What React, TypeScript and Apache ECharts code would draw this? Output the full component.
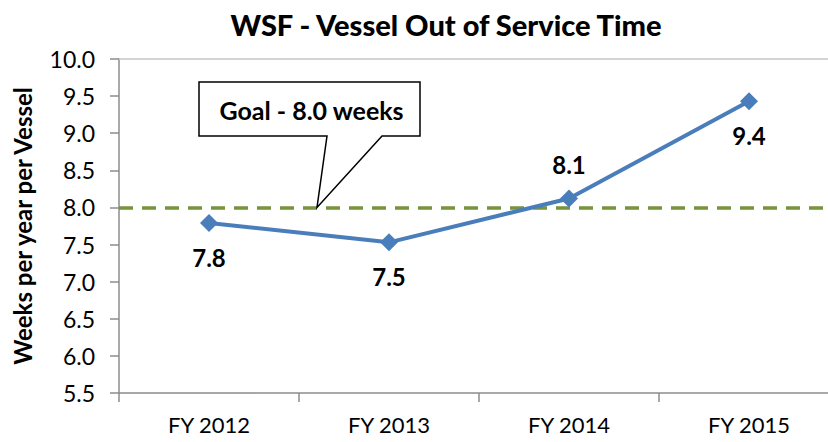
import React, { useEffect, useRef } from "react";
import * as echarts from "echarts";

const TITLE = "WSF - Vessel Out of Service Time";
const Y_NAME = "Weeks per year per Vessel";
const CATEGORIES = ["FY 2012", "FY 2013", "FY 2014", "FY 2015"];
const VALUES = [7.79, 7.53, 8.12, 9.43];
const LABEL_POS = ["bottom", "bottom", "top", "bottom"];
const GOAL = 8.0;
const GOAL_TEXT = "Goal - 8.0 weeks";
const Y_MIN = 5.5;
const Y_MAX = 10.0;
const Y_STEP = 0.5;

const FONT = "Lato, 'Open Sans', sans-serif";

export default function App() {
  const ref = useRef<HTMLDivElement>(null);
  useEffect(() => {
    document.body.style.margin = "0";
    document.body.style.overflow = "hidden";
    if (!ref.current) return;
    const chart = echarts.init(ref.current, undefined, { renderer: "svg" });
    chart.setOption({
      animation: false,
      backgroundColor: "#ffffff",
      textStyle: { fontFamily: FONT },
      title: {
        text: TITLE,
        left: 441,
        top: 5,
        textAlign: "center",
        textStyle: { fontFamily: FONT, fontWeight: 900, fontSize: 29, color: "#000" },
      },
      grid: {
        left: 119,
        top: 59,
        width: 720,
        height: 334,
        containLabel: false,
        outerBoundsMode: "none",
      },
      xAxis: [
        {
          type: "category",
          data: CATEGORIES,
          boundaryGap: true,
          axisLine: { show: true, lineStyle: { color: "#8c8c8c", width: 1.5 } },
          axisTick: { show: true, length: 9, inside: false, lineStyle: { color: "#8c8c8c", width: 1.5 } },
          axisLabel: { margin: 20, fontSize: 22, color: "#000", fontFamily: FONT },
          splitLine: { show: false },
        },
        {
          type: "category",
          data: CATEGORIES,
          position: "top",
          boundaryGap: true,
          axisLine: { show: true, lineStyle: { color: "#c6c6c6", width: 1.5 } },
          axisTick: { show: false },
          axisLabel: { show: false },
          splitLine: { show: false },
        },
      ],
      yAxis: {
        type: "value",
        min: Y_MIN,
        max: Y_MAX,
        interval: Y_STEP,
        name: Y_NAME,
        nameLocation: "middle",
        nameRotate: 90,
        nameGap: 85,
        nameTextStyle: { fontFamily: FONT, fontWeight: "bold", fontSize: 24, color: "#000" },
        axisLine: { show: true, lineStyle: { color: "#8c8c8c", width: 1.5 } },
        axisTick: { show: true, length: 9, inside: false, lineStyle: { color: "#8c8c8c", width: 1.5 } },
        axisLabel: {
          margin: 24,
          fontSize: 23,
          color: "#000",
          fontFamily: FONT,
          formatter: (v: number) => v.toFixed(1),
        },
        splitLine: { show: false },
      },
      series: [
        {
          type: "line",
          xAxisIndex: 0,
          data: VALUES.map((v, i) => ({
            value: v,
            label: { position: LABEL_POS[i] },
          })),
          symbol: "diamond",
          symbolSize: 18,
          lineStyle: { color: "#4A7EBB", width: 4 },
          itemStyle: { color: "#4A7EBB" },
          label: {
            show: true,
            distance: 13,
            fontSize: 24,
            fontWeight: "bold",
            color: "#000",
            fontFamily: FONT,
            formatter: (p: any) => Number(p.value).toFixed(1),
          },
          z: 3,
          markLine: {
            silent: true,
            symbol: "none",
            label: { show: false },
            lineStyle: { color: "#77933C", width: 3.5, type: [14, 9] },
            data: [{ yAxis: GOAL }],
            z: 2,
          },
        },
      ],
    });

    const tip = chart.convertToPixel({ gridIndex: 0 }, [0, GOAL]) as number[];
    const tipY = tip[1];
    const tipX = 317;
    const bx0 = 199, bx1 = 420, by0 = 82, by1 = 136;
    chart.setOption({
      graphic: [
        {
          type: "polygon",
          z: 10,
          shape: {
            points: [
              [bx0, by0],
              [bx1, by0],
              [bx1, by1],
              [382, by1],
              [tipX, tipY],
              [327, by1],
              [bx0, by1],
            ],
          },
          style: { fill: "#ffffff", stroke: "#000000", lineWidth: 1.5 },
        },
        {
          type: "text",
          z: 11,
          x: (bx0 + bx1) / 2 + 2,
          y: (by0 + by1) / 2 + 1,
          style: {
            text: GOAL_TEXT,
            fill: "#000",
            font: `bold 25px ${FONT}`,
            align: "center",
            verticalAlign: "middle",
          },
        },
      ],
    });

    return () => chart.dispose();
  }, []);
  return <div ref={ref} style={{ width: 828, height: 442, overflow: "hidden" }} />;
}
